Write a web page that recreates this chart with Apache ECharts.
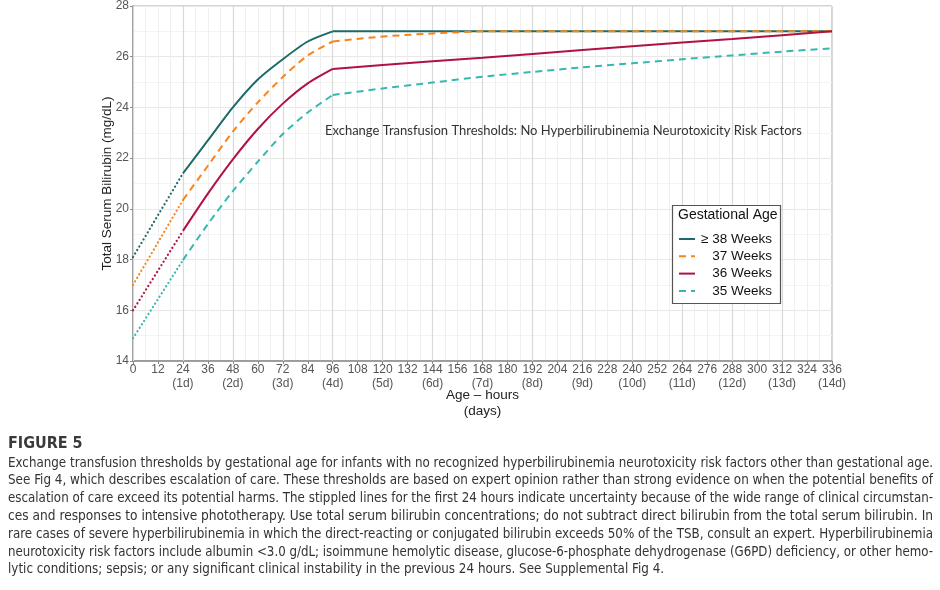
<!DOCTYPE html>
<html lang="en">
  <head>
    <meta charset="UTF-8" />
    <title>Figure 5</title>
    <script src="https://cdn.jsdelivr.net/npm/echarts@6/dist/echarts.min.js"></script>
    <style>
      html, body { margin: 0; padding: 0; background: #fff; }
    </style>
  </head>
  <body>
    <div id="chart" style="width: 940px; height: 590px"></div>

    <script>
      // hours after birth
      var hoursDotted = [0, 24];
      var hoursRise = [24, 36, 48, 60, 72, 84, 96];
      var hoursPlateau = [96, 120, 144, 168, 192, 216, 240, 264, 288, 312, 336];

      // first 24 h (stippled)
      var dot38 = [18.1, 21.4];
      var dot37 = [17.0, 20.35];
      var dot36 = [16.0, 19.13];
      var dot35 = [14.9, 17.98];

      // 24 h to 96 h
      var rise38 = [21.4, 22.7, 24.0, 25.1, 25.9, 26.6, 27.0];
      var rise37 = [20.35, 21.7, 23.05, 24.2, 25.2, 26.05, 26.6];
      var rise36 = [19.13, 20.6, 21.95, 23.15, 24.15, 24.95, 25.52];
      var rise35 = [17.98, 19.4, 20.7, 21.86, 22.95, 23.8, 24.49];

      // 96 h to 336 h
      var plat38 = [27.0, 27.0, 27.0, 27.0, 27.0, 27.0, 27.0, 27.0, 27.0, 27.0, 27.0];
      var plat37 = [26.6, 26.8, 26.92, 27.0, 27.0, 27.0, 27.0, 27.0, 27.0, 27.0, 27.0];
      var plat36 = [25.52, 25.67, 25.82, 25.96, 26.11, 26.26, 26.41, 26.56, 26.7, 26.85, 27.0];
      var plat35 = [24.49, 24.75, 24.98, 25.21, 25.4, 25.58, 25.74, 25.9, 26.05, 26.2, 26.33];

      var legendNames = ["≥ 38 Weeks", "37 Weeks", "36 Weeks", "35 Weeks"];
      var colors = ["#1b6b67", "#f7841c", "#b01242", "#35b8b2"];

      var captionTitle = "FIGURE 5";
      var captionLines = [
        "Exchange transfusion thresholds by gestational age for infants with no recognized hyperbilirubinemia neurotoxicity risk factors other than gestational age.",
        "See Fig 4, which describes escalation of care. These thresholds are based on expert opinion rather than strong evidence on when the potential benefits of",
        "escalation of care exceed its potential harms. The stippled lines for the first 24 hours indicate uncertainty because of the wide range of clinical circumstan-",
        "ces and responses to intensive phototherapy. Use total serum bilirubin concentrations; do not subtract direct bilirubin from the total serum bilirubin. In",
        "rare cases of severe hyperbilirubinemia in which the direct-reacting or conjugated bilirubin exceeds 50% of the TSB, consult an expert. Hyperbilirubinemia",
        "neurotoxicity risk factors include albumin <3.0 g/dL; isoimmune hemolytic disease, glucose-6-phosphate dehydrogenase (G6PD) deficiency, or other hemo-",
        "lytic conditions; sepsis; or any significant clinical instability in the previous 24 hours. See Supplemental Fig 4.",
      ];

      function pairs(xs, ys) {
        return xs.map(function (x, i) {
          return [x, ys[i]];
        });
      }

      var riseData = [rise38, rise37, rise36, rise35];
      var platData = [plat38, plat37, plat36, plat35];
      var dotData = [dot38, dot37, dot36, dot35];
      var dashes = ["solid", [7, 5], "solid", [7, 5]];

      var series = [];
      for (var i = 0; i < 4; i++) {
        // main line first so the legend takes its style
        series.push({
          name: legendNames[i],
          type: "line",
          data: pairs(hoursRise, riseData[i]),
          symbol: "none",
          smooth: 0.25,
          itemStyle: { color: colors[i] },
          lineStyle: { color: colors[i], width: 2, type: dashes[i] },
        });
        series.push({
          name: legendNames[i],
          type: "line",
          data: pairs(hoursPlateau, platData[i]),
          symbol: "none",
          smooth: i === 3 ? 0.25 : false,
          itemStyle: { color: colors[i] },
          lineStyle: { color: colors[i], width: 2, type: dashes[i] },
        });
        series.push({
          name: legendNames[i] + " (0-24 h)",
          type: "line",
          data: pairs(hoursDotted, dotData[i]),
          symbol: "none",
          silent: true,
          lineStyle: { color: colors[i], width: 2.2, type: [0.1, 4], cap: "round" },
        });
      }

      // squeeze each caption line to the justified width of the column
      var captionFont = "13.5px 'Liberation Sans Narrow', 'DejaVu Sans Condensed', sans-serif";
      var ctx = document.createElement("canvas").getContext("2d");
      ctx.font = captionFont;
      var fullWidth = 925;
      var scales = captionLines.map(function (line) {
        return fullWidth / ctx.measureText(line).width;
      });
      var lastScale = 0;
      for (var k = 0; k < scales.length - 1; k++) lastScale += scales[k];
      lastScale = lastScale / (scales.length - 1);
      scales[scales.length - 1] = lastScale;

      var graphics = [
        {
          type: "rect",
          z: 5,
          shape: { x: 672.5, y: 205.5, width: 108, height: 98 },
          style: { fill: "#fff", stroke: "#555", lineWidth: 1.2 },
        },
        {
          type: "text",
          z: 6,
          left: 678,
          top: 208,
          style: { text: "Gestational Age", font: "14px 'Liberation Sans', Arial, sans-serif", fill: "#111" },
        },
        {
          type: "text",
          z: 6,
          left: 325,
          top: 124,
          style: {
            text: "Exchange Transfusion Thresholds: No Hyperbilirubinemia Neurotoxicity Risk Factors",
            font: "13px Lato, sans-serif",
            fill: "#333",
          },
        },
        {
          type: "text",
          left: 8,
          top: 436,
          style: { text: captionTitle, font: "bold 16px 'Liberation Sans Narrow', 'DejaVu Sans Condensed', sans-serif", fill: "#3a3a3a" },
        },
      ];
      captionLines.forEach(function (line, k) {
        graphics.push({
          type: "text",
          x: 8,
          y: 456 + k * 17.8,
          scaleX: scales[k],
          style: {
            text: line,
            font: captionFont,
            fill: "#333",
          },
        });
      });

      var myChart = echarts.init(document.getElementById("chart"));

      var option = {
        animation: false,
        grid: {
          left: 133,
          right: 108,
          top: 6,
          bottom: 229,
          show: true,
          borderColor: "#a8a8a8",
          borderWidth: 1,
        },
        legend: {
          data: legendNames,
          orient: "vertical",
          left: 673,
          top: 227,
          z: 10,
          itemWidth: 16,
          itemHeight: 10,
          itemGap: 3.3,
          selectedMode: false,
          itemStyle: { opacity: 0 },
          formatter: function (name) {
            return "{t|" + name + "}";
          },
          textStyle: {
            rich: {
              t: {
                width: 72,
                align: "right",
                fontSize: 13.5,
                lineHeight: 14,
                color: "#111",
                fontFamily: "'Liberation Sans', Arial, sans-serif",
              },
            },
          },
        },
        xAxis: [
          {
            type: "value",
            min: 0,
            max: 336,
            interval: 12,
            name: "Age – hours\n(days)",
            nameLocation: "middle",
            nameGap: 26,
            nameMoveOverlap: false,
            nameTextStyle: {
              fontSize: 13.5,
              lineHeight: 16,
              color: "#222",
              fontFamily: "'Liberation Sans', Arial, sans-serif",
            },
            axisLine: { lineStyle: { color: "#888", width: 1.5 } },
            axisTick: { length: 3, lineStyle: { color: "#888" } },
            axisLabel: {
              margin: 2,
              fontSize: 12,
              lineHeight: 14,
              color: "#555",
              fontFamily: "'Liberation Sans', Arial, sans-serif",
              formatter: function (h) {
                if (h > 0 && h % 24 === 0) return h + "\n(" + h / 24 + "d)";
                return String(h);
              },
            },
            splitLine: { show: true, lineStyle: { color: "#efefef", width: 1 } },
            minorSplitLine: { show: true, lineStyle: { color: "#efefef", width: 1 } },
            minorTick: { show: false, splitNumber: 2 },
          },
          {
            type: "value",
            min: 0,
            max: 336,
            interval: 24,
            z: 1,
            axisLine: { show: false },
            axisTick: { show: false },
            axisLabel: { show: false },
            splitLine: { show: true, lineStyle: { color: "#d9d9d9", width: 1.2 } },
          },
        ],
        yAxis: {
          type: "value",
          min: 14,
          max: 28,
          interval: 2,
          name: "Total Serum Bilirubin (mg/dL)",
          nameLocation: "middle",
          nameGap: 19,
          nameMoveOverlap: false,
          nameTextStyle: {
            fontSize: 13.5,
            color: "#222",
            fontFamily: "'Liberation Sans', Arial, sans-serif",
          },
          axisLine: { show: true, lineStyle: { color: "#888", width: 1.5 } },
          axisTick: { show: true, length: 3, lineStyle: { color: "#888" } },
          axisLabel: {
            margin: 4,
            fontSize: 12,
            color: "#555",
            fontFamily: "'Liberation Sans', Arial, sans-serif",
          },
          splitLine: { show: true, lineStyle: { color: "#e8e8e8", width: 1 } },
          minorSplitLine: { show: true, lineStyle: { color: "#f3f3f3", width: 1 } },
          minorTick: { show: false, splitNumber: 2 },
        },
        graphic: graphics,
        series: series,
      };

      myChart.setOption(option);
    </script>
  </body>
</html>
